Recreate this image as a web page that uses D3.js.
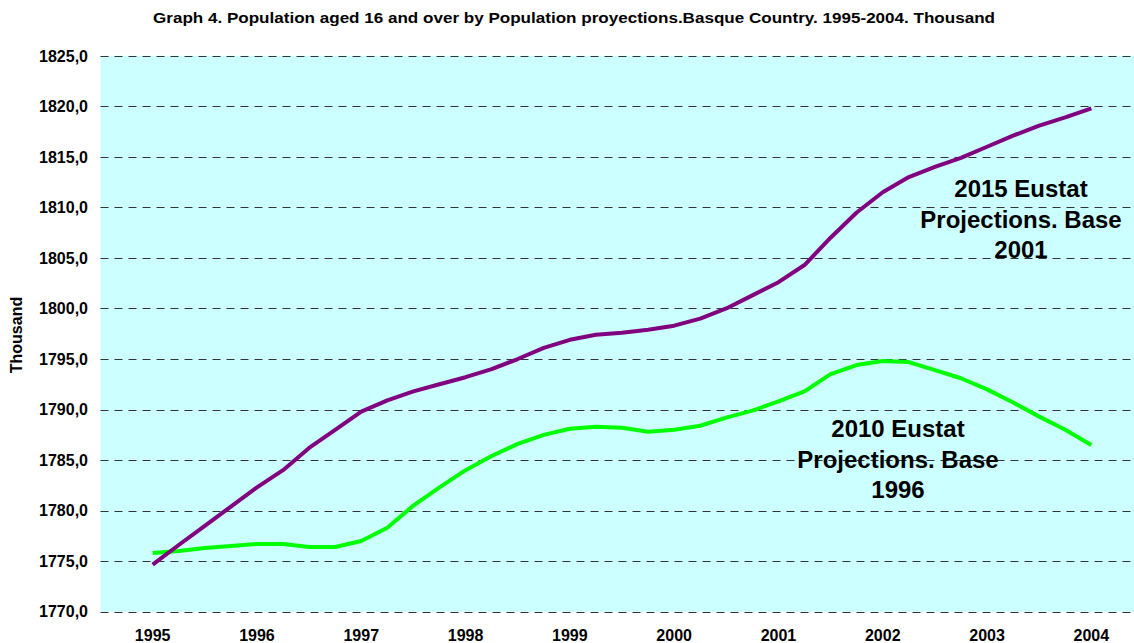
<!DOCTYPE html>
<html>
<head>
<meta charset="utf-8">
<script src="https://cdn.jsdelivr.net/npm/d3@7"></script>
<style>
  body { margin: 0; background: #fff; }
  svg text { font-family: "Liberation Sans", Arial, sans-serif; font-weight: bold; fill: #000; }
</style>
</head>
<body>
<svg id="chart" width="1134" height="643"></svg>
<script>
  // quarterly points, x as fractional year
  const quarters = d3.range(37).map(i => 1995 + i / 4);

  const base2001 = [1774.65, 1776.6, 1778.5, 1780.4, 1782.3, 1784.0, 1786.2, 1788.0, 1789.8,
    1790.9, 1791.8, 1792.5, 1793.2, 1794.0, 1795.0, 1796.1, 1796.9, 1797.4, 1797.6, 1797.9,
    1798.3, 1799.0, 1800.0, 1801.3, 1802.6, 1804.3, 1807.0, 1809.5, 1811.5, 1813.0, 1814.0,
    1814.9, 1816.0, 1817.1, 1818.1, 1818.9, 1819.8];

  const base1996 = [1775.8, 1776.0, 1776.3, 1776.5, 1776.7, 1776.7, 1776.4, 1776.4, 1777.0,
    1778.3, 1780.5, 1782.3, 1784.0, 1785.4, 1786.6, 1787.5, 1788.1, 1788.3, 1788.2, 1787.8,
    1788.0, 1788.4, 1789.2, 1789.9, 1790.8, 1791.8, 1793.5, 1794.4, 1794.8, 1794.7, 1793.9,
    1793.1, 1792.0, 1790.7, 1789.3, 1788.0, 1786.5];

  const years = d3.range(1995, 2005);
  const yTicks = d3.range(1770, 1826, 5);

  const title = "Graph 4. Population aged 16 and over by Population proyections.Basque Country. 1995-2004. Thousand";
  const yTitle = "Thousand";
  const label2001 = ["2015 Eustat", "Projections. Base", "2001"];
  const label1996 = ["2010 Eustat", "Projections. Base", "1996"];

  const svg = d3.select("#chart");

  const x = d3.scaleLinear().domain([1994.5, 2004.5]).range([100.5, 1143.5]);
  const y = d3.scaleLinear().domain([1770, 1825]).range([611.7, 55.8]);

  // plot background
  svg.append("rect")
    .attr("x", x(1994.5))
    .attr("y", y(1825))
    .attr("width", x(2004.5) - x(1994.5))
    .attr("height", y(1770) - y(1825))
    .attr("fill", "#ccffff");

  // gridlines
  svg.append("g").selectAll("line")
    .data(yTicks)
    .join("line")
      .attr("x1", x(1994.5))
      .attr("x2", x(2004.5))
      .attr("y1", d => Math.round(y(d)) + 0.5)
      .attr("y2", d => Math.round(y(d)) + 0.5)
      .attr("stroke", "#333")
      .attr("stroke-width", 1)
      .attr("stroke-dasharray", "8,6");

  // y labels
  svg.append("g").selectAll("text")
    .data(yTicks)
    .join("text")
      .attr("x", 88)
      .attr("y", d => y(d))
      .attr("dy", "0.36em")
      .attr("text-anchor", "end")
      .style("font-size", "16px")
      .text(d => d3.format(".1f")(d).replace(".", ","));

  // x labels
  svg.append("g").selectAll("text")
    .data(years)
    .join("text")
      .attr("x", d => x(d))
      .attr("y", 641)
      .attr("text-anchor", "middle")
      .style("font-size", "16px")
      .text(d => d);

  svg.append("text")
    .attr("transform", "translate(22,335) rotate(-90)")
    .attr("text-anchor", "middle")
    .style("font-size", "16px")
    .text(yTitle);

  svg.append("text")
    .attr("x", 574)
    .attr("y", 23)
    .attr("text-anchor", "middle")
    .style("font-size", "14px")
    .attr("textLength", 842)
    .attr("lengthAdjust", "spacingAndGlyphs")
    .text(title);

  const line = d3.line()
    .x((d, i) => x(quarters[i]))
    .y(d => y(d));

  svg.append("path")
    .attr("d", line(base1996))
    .attr("fill", "none")
    .attr("stroke", "#00ff00")
    .attr("stroke-width", 4)
    .attr("stroke-linejoin", "round");

  svg.append("path")
    .attr("d", line(base2001))
    .attr("fill", "none")
    .attr("stroke", "#800080")
    .attr("stroke-width", 4)
    .attr("stroke-linejoin", "round");

  // series labels
  function addLabel(lines, cx, y0) {
    svg.append("g").selectAll("text")
      .data(lines)
      .join("text")
        .attr("x", cx)
        .attr("y", (d, i) => y0 + i * 30.5)
        .attr("text-anchor", "middle")
        .style("font-size", "24px")
        .text(d => d);
  }
  addLabel(label2001, 1021, 197);
  addLabel(label1996, 898, 437);
</script>
</body>
</html>
